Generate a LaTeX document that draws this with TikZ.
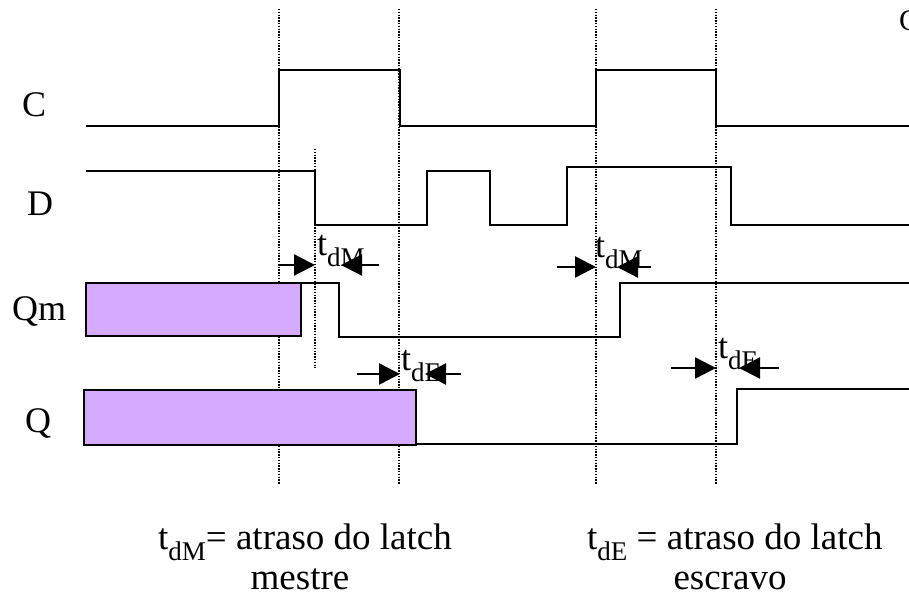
\documentclass[tikz,border=0pt]{standalone}
\usepackage{fontspec}
\setmainfont{Liberation Serif}
\usetikzlibrary{arrows.meta}
\definecolor{lav}{RGB}{214,170,255}
\newcommand\subsc[1]{\raisebox{-11pt}{\fontsize{27}{27}\selectfont #1}}
\begin{document}
\begin{tikzpicture}[x=1pt,y=-1pt,
  sig/.style={line width=2.4pt, line join=miter},
  guide/.style={line width=1.4pt, dash pattern=on 1.4pt off 1.4pt},
  lbl/.style={font=\fontsize{36}{43}\selectfont, inner sep=0pt, anchor=base west},
  leg/.style={font=\fontsize{37}{43}\selectfont, inner sep=0pt, anchor=base west},
  ctr/.style={font=\fontsize{37}{43}\selectfont, inner sep=0pt, anchor=base},
  dly/.style={line width=2.4pt, -{Triangle[length=21pt,width=21pt]}},
  latchbox/.style={fill=lav, draw=black, line width=2.4pt}]
\useasboundingbox (0,0) rectangle (909,599);
\clip (0,0) rectangle (909,599);

% guide lines
\foreach \x in {279,399,596,716} \draw[guide] (\x,9) -- (\x,484);
\draw[guide] (315,149) -- (315,368);

% signal names
\node[lbl] (lC) at (22,117) {C};
\node[lbl] (lD) at (27,215) {D};
\node[lbl] (lQm) at (12,320) {Qm};
\node[lbl] (lQ) at (25,432) {Q};
\node[lbl, font=\fontsize{30}{32}\selectfont] (cut) at (899,31) {C};

% waveforms
\draw[sig] (86,126) -- (279,126) -- (279,70) -- (400,70) -- (400,126) -- (596,126) -- (596,70) -- (716,70) -- (716,126) -- (909,126);
\draw[sig] (86,171) -- (315,171) -- (315,225) -- (427,225) -- (427,171) -- (490,171) -- (490,225) -- (567,225) -- (567,167) -- (731,167) -- (731,225) -- (909,225);
\draw[latchbox] (86,283) rectangle (301,336);
\draw[sig] (301,283) -- (339,283) -- (339,337) -- (620,337) -- (620,283) -- (909,283);
\draw[latchbox] (84,390) rectangle (416,445);
\draw[sig] (416,444) -- (737,444) -- (737,389) -- (909,389);

% delay labels
\node[lbl] (dm1) at (317,255) {t\subsc{dM}};
\node[lbl] (dm2) at (595,257) {t\subsc{dM}};
\node[lbl] (de1) at (401,370) {t\subsc{dE}};
\node[lbl] (de2) at (718,358) {t\subsc{dE}};

% delay arrows
\coordinate (a1s) at (278,265); \coordinate (a1e) at (315,265);
\coordinate (b1s) at (379,265); \coordinate (b1e) at (341,265);
\coordinate (a2s) at (557,267); \coordinate (a2e) at (596,267);
\coordinate (b2s) at (651,267); \coordinate (b2e) at (617,267);
\coordinate (a3s) at (357,374); \coordinate (a3e) at (400,374);
\coordinate (b3s) at (461,374); \coordinate (b3e) at (425,374);
\coordinate (a4s) at (671,368); \coordinate (a4e) at (716,368);
\coordinate (b4s) at (779,368); \coordinate (b4e) at (739,368);
\foreach \p in {a1,b1,a2,b2,a3,b3,a4,b4} \draw[dly] (\p s) -- (\p e);

% legend
\node[leg] (leg1) at (158,549) {t\subsc{dM}= atraso do latch};
\node[ctr] (leg1b) at (300,589) {mestre};
\node[leg] (leg2) at (587,549) {t\subsc{dE} = atraso do latch};
\node[ctr] (leg2b) at (730,589) {escravo};
\end{tikzpicture}
\end{document}
